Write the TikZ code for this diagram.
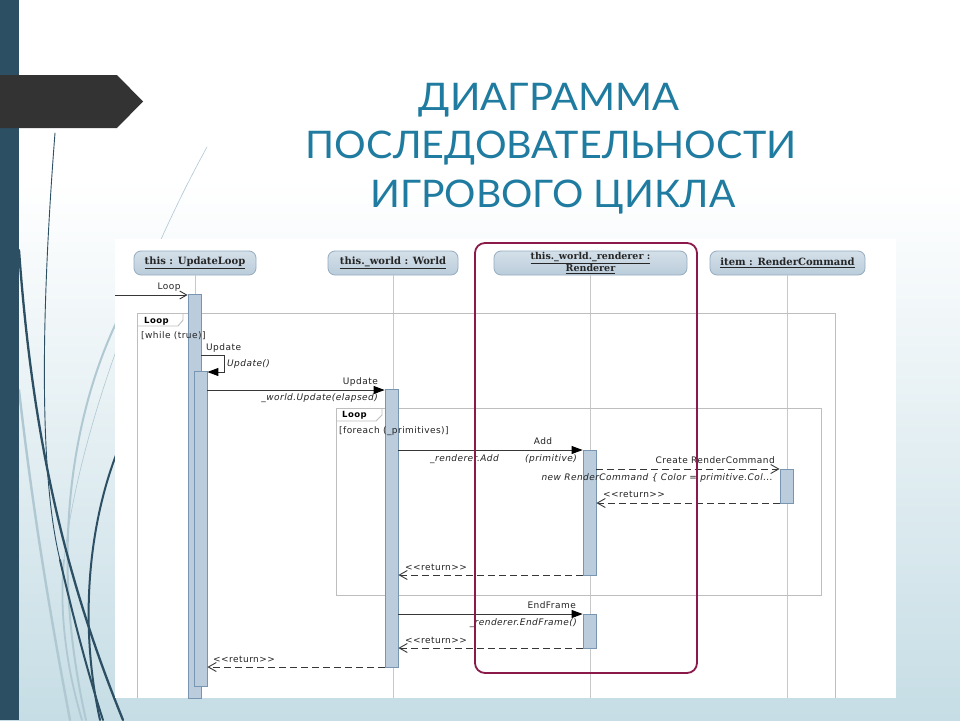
\documentclass[tikz,border=0pt]{standalone}
\usepackage{fontspec}
\usetikzlibrary{arrows.meta}
\setmainfont{DejaVu Sans}
\newfontfamily\titlefont{Lato}
\newfontfamily\umlfont[LetterSpace=5]{DejaVu Sans}
\newfontfamily\headfont{DejaVu Serif}

\definecolor{bandblue}{RGB}{45,79,100}
\definecolor{bannergray}{RGB}{51,51,51}
\definecolor{slidebot}{RGB}{198,221,229}
\definecolor{wisplight}{RGB}{176,200,210}
\definecolor{titleblue}{RGB}{31,124,160}
\definecolor{headtop}{RGB}{212,224,233}
\definecolor{headbot}{RGB}{186,204,218}
\definecolor{headline}{RGB}{150,172,192}
\definecolor{actfill}{RGB}{187,205,220}
\definecolor{actline}{RGB}{120,150,178}
\definecolor{lifegray}{RGB}{200,200,200}
\definecolor{framegray}{RGB}{190,190,190}
\definecolor{msggray}{RGB}{55,55,55}
\definecolor{labelgray}{RGB}{35,35,35}
\definecolor{focuscrimson}{RGB}{139,26,74}

\begin{document}
\begin{tikzpicture}[x=1pt,y=-1pt,
  titleline/.style={anchor=base, inner sep=0, text=titleblue,
    font=\titlefont\fontsize{38}{40}\selectfont},
  head/.style={draw=headline, line width=0.8, rounded corners=7,
    top color=headtop, bottom color=headbot, minimum height=24,
    inner sep=0, align=center, text=black!85,
    font=\headfont\bfseries\fontsize{10}{10}\selectfont},
  lifeline/.style={draw=lifegray, line width=1},
  actbar/.style={draw=actline, fill=actfill, line width=0.8,
    minimum width=13, inner sep=0},
  frameline/.style={draw=framegray, line width=0.9},
  lbl/.style={inner sep=0, text=labelgray,
    font=\umlfont\fontsize{9}{10}\selectfont},
  ilbl/.style={lbl, font=\umlfont\itshape\fontsize{9}{10}\selectfont},
  blbl/.style={lbl, text=black, font=\umlfont\bfseries\fontsize{8.5}{9}\selectfont},
  callmsg/.style={draw=msggray, line width=0.9,
    -{Triangle[length=11,width=8,color=black]}},
  foundmsg/.style={draw=msggray, line width=0.9,
    -{Straight Barb[length=7,width=8]}},
  replymsg/.style={draw=msggray, line width=0.9, dash pattern=on 7 off 4,
    -{Straight Barb[length=8,width=9]}},
  wispdark/.style={draw=bandblue, line cap=round},
  wispsoft/.style={draw=wisplight, line cap=round}
]
\useasboundingbox (0,0) rectangle (960,720);

% slide background
\fill[white] (0,0) rectangle (960,181);
\shade[top color=white, bottom color=slidebot] (0,180) rectangle (960,720);

% wisps on the left
\draw[wispsoft, line width=2.4] (19,390) .. controls (35,530) and (55,640) .. (70,720);
\draw[wispsoft, line width=0.6] (207,147) .. controls (150,250) and (80,420) .. (64,560);
\draw[wispsoft, line width=1.8] (64,560) .. controls (58,620) and (70,680) .. (82,720);
\draw[wispsoft, line width=2] (117,321) .. controls (70,420) and (50,560) .. (86,720);
\draw[wispdark, line width=0.9] (55,133) .. controls (42,300) and (38,470) .. (60,560);
\draw[wispdark, line width=2] (60,560) .. controls (75,625) and (90,680) .. (103,720);
\draw[wispdark, line width=2.3] (19,250) .. controls (32,430) and (62,570) .. (123,720);
\draw[wispdark, line width=2] (118,450) .. controls (90,520) and (78,620) .. (100,720);

% left band and banner
\fill[bandblue] (0,0) rectangle (19,720);
\fill[bannergray] (0,75) -- (117,75) -- (143,101.5) -- (117,128) -- (0,128) -- cycle;

% title
\node[titleline] (t1) at (549,110) {\scalebox{1.05}[1]{ДИАГРАММА}};
\node[titleline] (t2) at (551,158) {\scalebox{1.04}[1]{ПОСЛЕДОВАТЕЛЬНОСТИ}};
\node[titleline] (t3) at (553,207) {\scalebox{1.03}[1]{ИГРОВОГО ЦИКЛА}};

% diagram sheet
\fill[white] (115,239) rectangle (896,698);
\coordinate (floor) at (0,698);

% lifeline heads
\node[head, minimum width=122] (hUL) at (195,263) {\underline{this : UpdateLoop}};
\node[head, minimum width=130] (hW) at (393,263) {\underline{this.\_world : World}};
\node[head, minimum width=193, font=\headfont\bfseries\fontsize{9.5}{9.5}\selectfont]
  (hR) at (590.5,263) {\underline{this.\_world.\_renderer :}\\\underline{Renderer}};
\node[head, minimum width=155] (hRC) at (787.5,263) {\underline{item : RenderCommand}};

% lifelines
\draw[lifeline] (hUL.south) -- (hUL.south |- floor);
\draw[lifeline] (hW.south) -- (hW.south |- floor);
\draw[lifeline] (hR.south) -- (hR.south |- floor);
\draw[lifeline] (hRC.south) -- (hRC.south |- floor);

% combined fragments
\draw[frameline] (137,698) -- (137,313) -- (835,313) -- (835,698);
\draw[frameline] (137,326) -- (178,326) -- (183,320) -- (183,313);
\node[blbl, anchor=base west] (tabOuter) at (144,323) {Loop};

\draw[frameline] (336,408) rectangle (821,595);
\draw[frameline] (336,421) -- (376,421) -- (382,415) -- (382,408);
\node[blbl, anchor=base west] (tabInner) at (342,417) {Loop};

% activation bars
\node[actbar, minimum height=404] (aUL1) at (194.5,496) {};
\node[actbar, minimum height=315] (aUL2) at (200.5,528.5) {};
\node[actbar, minimum height=278] (aW) at (391.5,528) {};
\node[actbar, minimum height=125] (aRadd) at (589.5,512.5) {};
\node[actbar, minimum height=34] (aRC) at (786.5,486) {};
\node[actbar, minimum height=34] (aRend) at (589.5,631) {};

% loop guards, written over the bars
\node[lbl, anchor=base west] (guardOuter) at (141,338) {[while (true)]};
\node[lbl, anchor=base west] (guardInner) at (339,433) {[foreach (\_primitives)]};

% message rows
\coordinate (yLoop) at (0,295);
\coordinate (turn) at (224,355);
\coordinate (ySelf) at (0,372);
\coordinate (yUpd) at (0,390);
\coordinate (yAdd) at (0,450);
\coordinate (yNew) at (0,469);
\coordinate (yRet1) at (0,503);
\coordinate (yRet2) at (0,575);
\coordinate (yEnd) at (0,614);
\coordinate (yRet3) at (0,648);
\coordinate (yRet4) at (0,667);
\coordinate (entry) at (115,295);

% messages
\draw[foundmsg] (entry) -- (aUL1.west |- yLoop);
\node[lbl, anchor=base] (lLoop) at (169,289) {Loop};

\draw[callmsg] (aUL1.east |- turn) -- (turn) |- (aUL2.east |- ySelf);
\node[lbl, anchor=base west] (lSelf) at (206,350) {Update};
\node[ilbl, anchor=base west] (lSelfOp) at (227,366) {Update()};

\draw[callmsg] (aUL2.east |- yUpd) -- (aW.west |- yUpd);
\node[lbl, anchor=base east] (lUpd) at (378,384) {Update};
\node[ilbl, anchor=base east] (lUpdOp) at (378,400) {\_world.Update(elapsed)};

\draw[callmsg] (aW.east |- yAdd) -- (aRadd.west |- yAdd);
\node[lbl, anchor=base] (lAdd) at (543,444) {Add};
\node[ilbl, anchor=base west] (lAddOp) at (430,461) {\_renderer.Add};
\node[ilbl, anchor=base east] (lAddArg) at (577,461) {(primitive)};

\draw[replymsg] (aRadd.east |- yNew) -- (aRC.west |- yNew);
\node[lbl, anchor=base east] (lNew) at (775,463) {Create RenderCommand};
\node[ilbl, anchor=base east] (lNewOp) at (773,480) {new RenderCommand \{ Color = primitive.Col...};

\draw[replymsg] (aRC.west |- yRet1) -- (aRadd.east |- yRet1);
\node[lbl, anchor=base west] (lRet1) at (603,497) {<<return>>};

\draw[replymsg] (aRadd.west |- yRet2) -- (aW.east |- yRet2);
\node[lbl, anchor=base west] (lRet2) at (405,570) {<<return>>};

\draw[callmsg] (aW.east |- yEnd) -- (aRend.west |- yEnd);
\node[lbl, anchor=base east] (lEnd) at (576,608) {EndFrame};
\node[ilbl, anchor=base east] (lEndOp) at (577,625) {\_renderer.EndFrame()};

\draw[replymsg] (aRend.west |- yRet3) -- (aW.east |- yRet3);
\node[lbl, anchor=base west] (lRet3) at (405,643) {<<return>>};

\draw[replymsg] (aW.west |- yRet4) -- (aUL2.east |- yRet4);
\node[lbl, anchor=base west] (lRet4) at (213,662) {<<return>>};

% highlighted renderer lane
\draw[focuscrimson, line width=1.8, rounded corners=10] (475,243) rectangle (697,673);
\end{tikzpicture}
\end{document}
